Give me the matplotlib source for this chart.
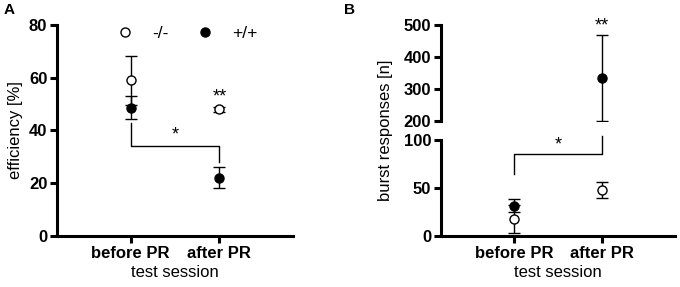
import matplotlib
matplotlib.use("Agg")
import matplotlib.pyplot as plt
from matplotlib.lines import Line2D

plt.rcParams['font.family'] = ['Liberation Sans', 'DejaVu Sans']

sessions = ["before PR", "after PR"]
xpos = [0, 1]

# panel A: efficiency [%]
eff_ko = [59.1, 48.0]
eff_ko_err = [9.3, 1.0]
eff_wt = [48.7, 22.1]
eff_wt_err = [4.5, 4.0]

# panel B: burst responses [n]
burst_ko = [17.4, 47.9]
burst_ko_err = [14.6, 8.0]
burst_wt = [31.6, 333.4]
burst_wt_err = [7.0, 134.0]

SPINE = 2.2
XL = (-0.83, 1.83)


def style(ax):
    for s in ["top", "right"]:
        ax.spines[s].set_visible(False)
    for s in ["left", "bottom"]:
        ax.spines[s].set_linewidth(SPINE)
    ax.tick_params(width=SPINE, length=5, labelsize=12, pad=2)
    for lab in ax.get_xticklabels() + ax.get_yticklabels():
        lab.set_fontweight("bold")


def draw(ax, ko, ko_err, wt, wt_err):
    ax.errorbar(xpos, wt, yerr=wt_err, fmt="o", color="black", ms=6.5,
                elinewidth=1, capsize=4, capthick=1, zorder=3)
    ax.errorbar(xpos, ko, yerr=ko_err, fmt="o", mfc="white", mec="black",
                color="black", ms=6.5, mew=1, elinewidth=1, capsize=4,
                capthick=1, zorder=4)


fig = plt.figure(figsize=(6.8, 2.87), dpi=100)

# ---- panel A ----
axA = fig.add_axes([0.0838, 0.1777, 0.3472, 0.7353])
draw(axA, eff_ko, eff_ko_err, eff_wt, eff_wt_err)
axA.set_xlim(*XL)
axA.set_ylim(0, 80)
axA.set_yticks([0, 20, 40, 60, 80])
axA.set_xticks(xpos)
axA.set_xticklabels(sessions)
axA.set_xlabel("test session", fontsize=12, labelpad=3)
axA.set_ylabel("efficiency [%]", fontsize=12, labelpad=4)
style(axA)
axA.plot([0, 0, 1, 1], [42.8, 34, 34, 28], color="black", lw=1)
axA.text(0.5, 35, "*", ha="center", va="bottom", fontsize=13)
axA.text(1, 49.3, "**", ha="center", va="bottom", fontsize=13)
handles = [Line2D([], [], marker="o", ls="none", mfc="white", mec="black", ms=6.5),
           Line2D([], [], marker="o", ls="none", color="black", ms=6.5)]
axA.legend(handles, ["-/-", "+/+"], ncol=2, frameon=False, fontsize=12.5,
           loc="upper left", bbox_to_anchor=(0.15, 1.07), handletextpad=0.56,
           columnspacing=1.1)
fig.text(0.006, 0.99, "A", fontsize=11, fontweight="bold", va="top")

# ---- panel B (broken axis) ----
axB = fig.add_axes([0.6485, 0.1777, 0.3441, 0.3343])
axT = fig.add_axes([0.6485, 0.578, 0.3441, 0.335], sharex=axB)
for ax in (axB, axT):
    draw(ax, burst_ko, burst_ko_err, burst_wt, burst_wt_err)
axB.set_ylim(0, 100)
axB.set_yticks([0, 50, 100])
axT.set_ylim(200, 500)
axT.set_yticks([200, 300, 400, 500])
axB.set_xlim(*XL)
axB.set_xticks(xpos)
axB.set_xticklabels(sessions)
axB.set_xlabel("test session", fontsize=12, labelpad=3)
style(axB)
style(axT)
axT.spines["bottom"].set_visible(False)
axT.tick_params(axis="x", bottom=False, labelbottom=False)
axB.plot([0, 0, 1, 1], [64.2, 85.4, 85.4, 104.5], color="black", lw=1,
         clip_on=False)
axB.text(0.5, 86.5, "*", ha="center", va="bottom", fontsize=13)
axT.text(1, 470, "**", ha="center", va="bottom", fontsize=13)
fig.text(0.567, 0.545, "burst responses [n]", rotation=90, fontsize=12,
         ha="center", va="center")
fig.text(0.506, 0.99, "B", fontsize=11, fontweight="bold", va="top")

fig.savefig("out.png", dpi=100)
